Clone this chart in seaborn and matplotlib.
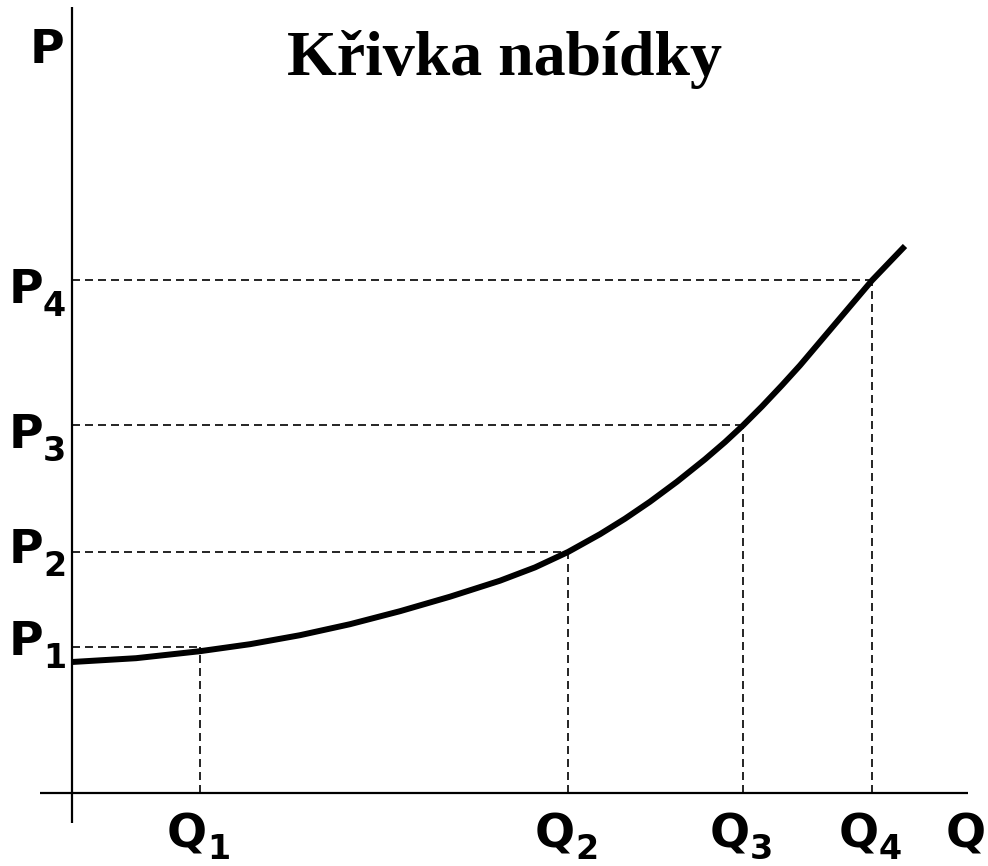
import numpy as np
import pandas as pd
import matplotlib
matplotlib.use("Agg")
import matplotlib.pyplot as plt
import seaborn as sns

# values (origin at the axes crossing, 1 unit = 1 px)
q_levels = [128, 496, 671, 800]
p_levels = [146, 241, 368, 513]
level_ids = ["1", "2", "3", "4"]

curve_q = [0, 64, 128, 178, 228, 278, 328, 378, 428, 463, 496, 528, 553,
           578, 605, 633, 653, 671, 690, 710, 728, 764, 800, 833]
curve_p = [131, 134.8, 141.8, 148.8, 157.8, 168.8, 181.8, 196.3, 212.3,
           225.6, 241, 258.8, 274.3, 291.3, 311.3, 333.7, 350.9, 367.6,
           386.6, 407.8, 427.6, 470.1, 512.6, 547]

title = "Křivka nabídky"

sns.set_theme(style="white")
plt.rcParams["font.family"] = ["DejaVu Sans"]

fig = plt.figure(figsize=(9.88, 8.66), dpi=100)
ax = fig.add_axes([0, 0, 1, 1])

# axes cross
ax.plot([-32, 896], [0, 0], color="black", lw=1.6, solid_capstyle="butt")
ax.plot([0, 0], [-30, 786], color="black", lw=1.6, solid_capstyle="butt")

# guide lines
for q, p in zip(q_levels, p_levels):
    ax.plot([0, q], [p, p], color="black", lw=1.2, dashes=(4.8, 3))
    ax.plot([q, q], [0, p], color="black", lw=1.2, dashes=(4.8, 3))

# supply curve
curve = pd.DataFrame({"Q": curve_q, "P": curve_p})
sns.lineplot(data=curve, x="Q", y="P", sort=False, color="black", lw=4.3,
             ax=ax, solid_capstyle="butt", solid_joinstyle="round")
ax.set_xlim(-72, 916)
ax.set_ylim(-73, 793)
ax.set_axis_off()

main_kw = dict(fontsize=34, fontweight="bold", color="black", va="baseline")
sub_kw = dict(fontsize=24, fontweight="bold", color="black", va="baseline")

# price labels
p_base = [138, 230, 345, 490]
for base, sid in zip(p_base, level_ids):
    ax.text(-29, base, "P", ha="right", **main_kw)
    ax.text(-29, base - 13, sid, ha="left", **sub_kw)

# quantity labels
for q, sid in zip(q_levels, level_ids):
    ax.text(q + 7, -55, "Q", ha="right", **main_kw)
    ax.text(q + 7, -66, sid, ha="left", **sub_kw)

ax.text(-42, 730, "P", ha="left", **main_kw)
ax.text(914, -55, "Q", ha="right", **main_kw)

ax.text(432, 718, title, ha="center", va="baseline", fontsize=46,
        fontweight="bold", family=["Liberation Serif"], color="black")

fig.savefig("out.png", dpi=100)
